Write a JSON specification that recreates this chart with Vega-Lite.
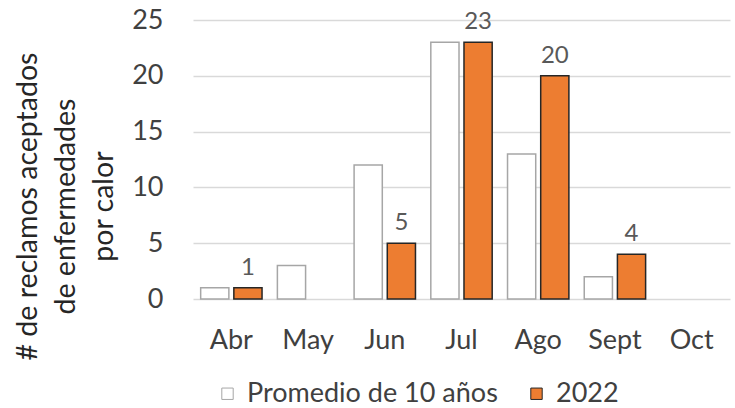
{
  "$schema": "https://vega.github.io/schema/vega-lite/v6.json",
  "width": 537,
  "height": 279,
  "autosize": "none",
  "padding": {"left": 193, "top": 20, "right": 5, "bottom": 109},
  "background": "white",
  "config": {
    "font": "Lato",
    "view": {"stroke": null}
  },
  "data": {
    "values": [
      {"mes": "Abr", "serie": "Promedio de 10 años", "valor": 1},
      {"mes": "Abr", "serie": "2022", "valor": 1},
      {"mes": "May", "serie": "Promedio de 10 años", "valor": 3},
      {"mes": "May", "serie": "2022", "valor": 0},
      {"mes": "Jun", "serie": "Promedio de 10 años", "valor": 12},
      {"mes": "Jun", "serie": "2022", "valor": 5},
      {"mes": "Jul", "serie": "Promedio de 10 años", "valor": 23},
      {"mes": "Jul", "serie": "2022", "valor": 23},
      {"mes": "Ago", "serie": "Promedio de 10 años", "valor": 13},
      {"mes": "Ago", "serie": "2022", "valor": 20},
      {"mes": "Sept", "serie": "Promedio de 10 años", "valor": 2},
      {"mes": "Sept", "serie": "2022", "valor": 4},
      {"mes": "Oct", "serie": "Promedio de 10 años", "valor": 0},
      {"mes": "Oct", "serie": "2022", "valor": 0}
    ]
  },
  "encoding": {
    "x": {
      "field": "mes",
      "type": "nominal",
      "sort": ["Abr", "May", "Jun", "Jul", "Ago", "Sept", "Oct"],
      "scale": {"domain": ["Abr", "May", "Jun", "Jul", "Ago", "Sept", "Oct"], "paddingInner": 0.2, "paddingOuter": 0.1},
      "axis": {
        "title": null,
        "labelAngle": 0,
        "domain": false,
        "ticks": false,
        "labelFontSize": 27,
        "labelColor": "#404040",
        "labelPadding": 28
      }
    },
    "xOffset": {
      "field": "serie",
      "type": "nominal",
      "sort": ["Promedio de 10 años", "2022"],
      "scale": {"domain": ["Promedio de 10 años", "2022"], "paddingInner": 0.15}
    },
    "y": {
      "field": "valor",
      "type": "quantitative",
      "scale": {"domain": [0, 25]},
      "axis": {
        "values": [0, 5, 10, 15, 20, 25],
        "title": ["# de reclamos aceptados", "de enfermedades", "por calor"],
        "titleFontSize": 28.5,
        "titleFontWeight": "normal",
        "titleColor": "#262626",
        "titleLineHeight": 38,
        "titleAngle": -90,
        "titleAlign": "center",
        "titleBaseline": "top",
        "titleX": -180,
        "titleY": 186,
        "domain": false,
        "ticks": false,
        "labelFontSize": 27,
        "labelColor": "#404040",
        "labelPadding": 30,
        "grid": true,
        "gridColor": "#d9d9d9",
        "gridWidth": 1.3
      }
    }
  },
  "layer": [
    {
      "transform": [{"filter": "datum.valor > 0"}],
      "mark": {"type": "bar", "strokeWidth": 1.5},
      "encoding": {
        "fill": {
          "field": "serie",
          "type": "nominal",
          "scale": {"domain": ["Promedio de 10 años", "2022"], "range": ["#ffffff", "#ED7D31"]},
          "legend": {
            "title": null,
            "orient": "none",
            "direction": "horizontal",
            "legendX": 21,
            "legendY": 360,
            "padding": 0,
            "symbolType": "square",
            "symbolSize": 130,
            "symbolStrokeWidth": 1,
            "labelFontSize": 27,
            "labelColor": "#404040",
            "labelLimit": 500,
            "labelOffset": 6,
            "columnPadding": 25
          }
        },
        "stroke": {
          "field": "serie",
          "type": "nominal",
          "scale": {"domain": ["Promedio de 10 años", "2022"], "range": ["#a6a6a6", "#262626"]},
          "legend": {
            "title": null,
            "orient": "none",
            "direction": "horizontal",
            "legendX": 21,
            "legendY": 360,
            "padding": 0,
            "symbolType": "square",
            "symbolSize": 130,
            "symbolStrokeWidth": 1,
            "labelFontSize": 27,
            "labelColor": "#404040",
            "labelLimit": 500,
            "labelOffset": 6,
            "columnPadding": 25
          }
        }
      }
    },
    {
      "transform": [{"filter": "datum.serie == '2022' && datum.valor > 0"}],
      "mark": {"type": "text", "baseline": "bottom", "dy": -8, "fontSize": 24, "color": "#595959"},
      "encoding": {
        "text": {"field": "valor", "type": "quantitative"}
      }
    }
  ]
}
